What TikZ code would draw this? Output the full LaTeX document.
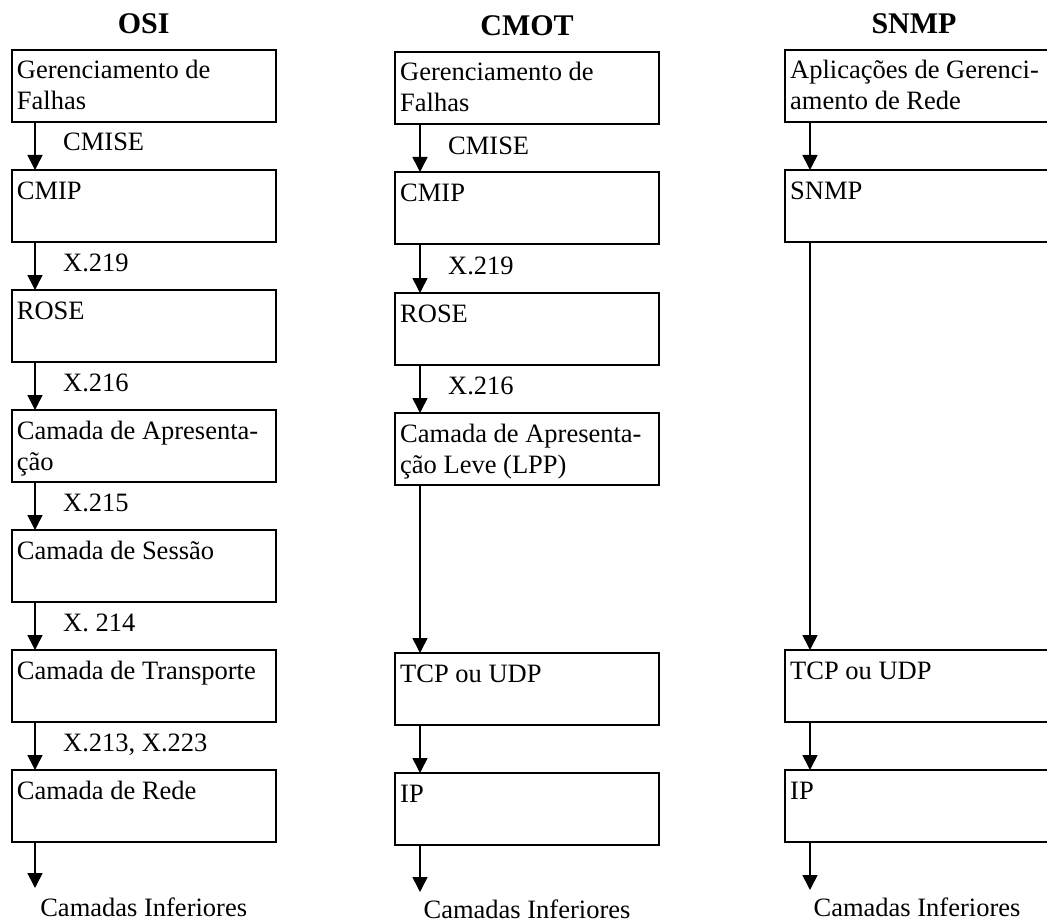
\documentclass[tikz,border=0pt]{standalone}
\usepackage{fontspec}
\setmainfont{Liberation Serif}
\usetikzlibrary{arrows.meta}
\tikzset{
  layer/.style={draw, line width=1.6pt, minimum width=264pt, minimum height=72pt,
                anchor=north west, inner sep=0pt, outer sep=0pt},
  txt/.style={font=\fontsize{26.5}{31}\selectfont, inner sep=0pt, align=left, anchor=base west},
  ttl/.style={font=\fontsize{30}{34}\selectfont\bfseries, inner sep=0pt, anchor=base},
  flow/.style={line width=1.6pt, -{Triangle[width=15pt,length=15pt]}},
}
\begin{document}
\begin{tikzpicture}[x=1pt,y=-1pt]
\useasboundingbox (0,0) rectangle (1047,923);

% ---------------- OSI ----------------
% two-line texts are anchored at the baseline of their last line
\node[ttl] (tosi) at (143.7,34) {OSI};
\node[layer] (o1) at (11.7,50) {};
\node[txt] (o1t) at (16.7,110) {Gerenciamento de\\Falhas};
\node[layer] (o2) at (11.7,170) {};
\node[txt] (o2t) at (16.7,199) {CMIP};
\node[layer] (o3) at (11.7,290) {};
\node[txt] (o3t) at (16.7,319) {ROSE};
\node[layer] (o4) at (11.7,410) {};
\node[txt] (o4t) at (16.7,470) {Camada de Apresenta-\\ção};
\node[layer] (o5) at (11.7,530) {};
\node[txt] (o5t) at (16.7,559) {Camada de Sessão};
\node[layer] (o6) at (11.7,650) {};
\node[txt] (o6t) at (16.7,679) {Camada de Transporte};
\node[layer] (o7) at (11.7,770) {};
\node[txt] (o7t) at (16.7,799) {Camada de Rede};

\draw[flow] ([xshift=23.3pt]o1.south west) -- ([xshift=23.3pt]o2.north west);
\draw[flow] ([xshift=23.3pt]o2.south west) -- ([xshift=23.3pt]o3.north west);
\draw[flow] ([xshift=23.3pt]o3.south west) -- ([xshift=23.3pt]o4.north west);
\draw[flow] ([xshift=23.3pt]o4.south west) -- ([xshift=23.3pt]o5.north west);
\draw[flow] ([xshift=23.3pt]o5.south west) -- ([xshift=23.3pt]o6.north west);
\draw[flow] ([xshift=23.3pt]o6.south west) -- ([xshift=23.3pt]o7.north west);
\coordinate (oend) at (35,888);
\draw[flow] ([xshift=23.3pt]o7.south west) -- (oend);

\node[txt] (o1l) at (63,151) {CMISE};
\node[txt] (o2l) at (63,271) {X.219};
\node[txt] (o3l) at (63,391) {X.216};
\node[txt] (o4l) at (63,511) {X.215};
\node[txt] (o5l) at (63,631) {X. 214};
\node[txt] (o6l) at (63,751) {X.213, X.223};
\node[txt, anchor=base] (oinf) at (143.7,916) {Camadas Inferiores};

% ---------------- CMOT ----------------
\node[ttl] (tcmot) at (527,36) {CMOT};
\node[layer] (c1) at (395,52) {};
\node[txt] (c1t) at (400,112) {Gerenciamento de\\Falhas};
\node[layer] (c2) at (395,172) {};
\node[txt] (c2t) at (400,201) {CMIP};
\node[layer] (c3) at (395,293) {};
\node[txt] (c3t) at (400,322) {ROSE};
\node[layer] (c4) at (395,413) {};
\node[txt] (c4t) at (400,473) {Camada de Apresenta-\\ção Leve (LPP)};
\node[layer] (c5) at (395,653) {};
\node[txt] (c5t) at (400,682) {TCP ou UDP};
\node[layer] (c6) at (395,773) {};
\node[txt] (c6t) at (400,802) {IP};

\draw[flow] ([xshift=25pt]c1.south west) -- ([xshift=25pt]c2.north west);
\draw[flow] ([xshift=25pt]c2.south west) -- ([xshift=25pt]c3.north west);
\draw[flow] ([xshift=25pt]c3.south west) -- ([xshift=25pt]c4.north west);
\draw[flow] ([xshift=25pt]c4.south west) -- ([xshift=25pt]c5.north west);
\draw[flow] ([xshift=25pt]c5.south west) -- ([xshift=25pt]c6.north west);
\coordinate (cend) at (420,892);
\draw[flow] ([xshift=25pt]c6.south west) -- (cend);

\node[txt] (c1l) at (448,154) {CMISE};
\node[txt] (c2l) at (448,274) {X.219};
\node[txt] (c3l) at (448,394) {X.216};
\node[txt, anchor=base] (cinf) at (527,918) {Camadas Inferiores};

% ---------------- SNMP ----------------
\node[ttl] (tsnmp) at (914,34) {SNMP};
\node[layer] (s1) at (785,50) {};
\node[txt] (s1t) at (790,110) {Aplicações de Gerenci-\\amento de Rede};
\node[layer] (s2) at (785,170) {};
\node[txt] (s2t) at (790,199) {SNMP};
\node[layer] (s3) at (785,650) {};
\node[txt] (s3t) at (790,679) {TCP ou UDP};
\node[layer] (s4) at (785,770) {};
\node[txt] (s4t) at (790,799) {IP};

\draw[flow] ([xshift=25pt]s1.south west) -- ([xshift=25pt]s2.north west);
\draw[flow] ([xshift=25pt]s2.south west) -- ([xshift=25pt]s3.north west);
\draw[flow] ([xshift=25pt]s3.south west) -- ([xshift=25pt]s4.north west);
\coordinate (send) at (810,890);
\draw[flow] ([xshift=25pt]s4.south west) -- (send);

\node[txt, anchor=base] (sinf) at (917,916) {Camadas Inferiores};
\end{tikzpicture}
\end{document}
